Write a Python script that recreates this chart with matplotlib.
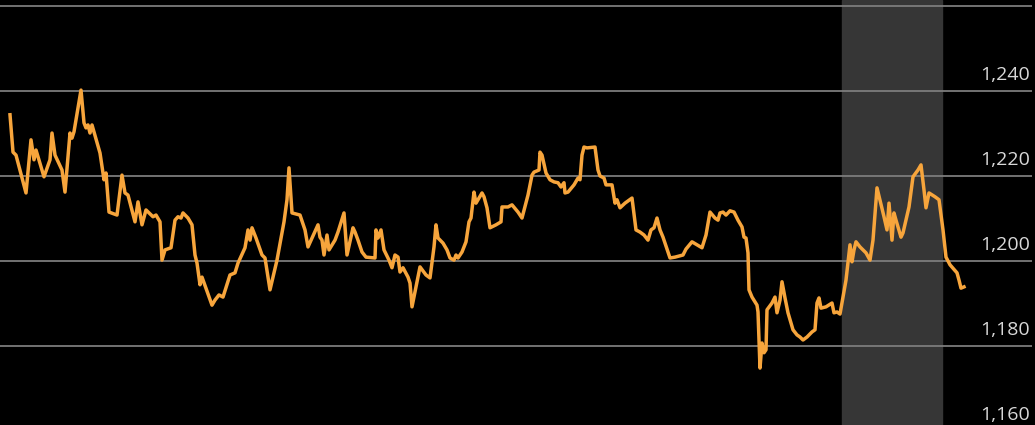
import matplotlib
matplotlib.use("Agg")
import matplotlib.pyplot as plt

# x positions (trading-day position along the chart) and index level
t = [10, 13, 16, 26, 31, 34, 36, 44, 50, 52, 55, 62, 65, 70, 72, 74, 81, 84, 86, 88,
     90, 92, 100, 104, 106, 109, 117, 122, 125, 128, 135, 138, 142, 146, 153, 156, 160, 162, 165, 171,
     175, 178, 181, 183, 188, 192, 195, 197, 200, 202, 212, 215, 219, 223, 230, 235, 238, 245, 248, 250,
     252, 256, 262, 265, 270, 277, 284, 287, 289, 292, 300, 305, 308, 318, 320, 322, 324, 327, 329, 335,
     338, 344, 347, 353, 355, 358, 362, 366, 375, 376, 378, 381, 384, 389, 392, 395, 398, 400, 403, 408,
     410, 412, 416, 420, 426, 430, 434, 436, 438, 443, 447, 450, 454, 456, 458, 462, 466, 469, 471, 474,
     476, 478, 482, 484, 487, 490, 496, 501, 502, 508, 512, 518, 522, 528, 532, 534, 539, 540, 542, 546,
     550, 554, 558, 561, 564, 565, 568, 574, 578, 580, 582, 584, 587, 595, 598, 600, 604, 606, 612, 615,
     617, 620, 625, 632, 636, 640, 644, 648, 651, 654, 657, 660, 663, 670, 675, 683, 686, 692, 697, 702,
     706, 710, 715, 718, 720, 723, 726, 730, 734, 738, 742, 744, 746, 748, 749, 752, 757, 758, 760, 762,
     764, 766, 767, 772, 775, 777, 780, 782, 785, 788, 793, 797, 800, 803, 807, 812, 815, 817, 819, 821,
     826, 832, 834, 837, 840, 846, 850, 852, 854, 856, 860, 866, 870, 873, 877, 884, 887, 889, 892, 894,
     896, 901, 903, 909, 913, 918, 921, 924, 926, 929, 935, 939, 943, 946, 950, 957, 959, 961, 964]
level = [1234.4, 1225.6, 1224.9, 1216.0, 1228.5, 1223.8, 1226.1, 1219.8, 1223.8, 1230.1,
         1224.9, 1221.4, 1216.2, 1230.1, 1228.9, 1230.4, 1240.2, 1232.5, 1231.3, 1232.0,
         1230.1, 1232.0, 1225.4, 1219.1, 1220.7, 1211.5, 1210.8, 1220.2, 1216.0, 1215.5,
         1209.2, 1213.9, 1208.5, 1212.0, 1210.4, 1210.8, 1209.2, 1200.2, 1202.6, 1203.1,
         1209.6, 1210.4, 1210.1, 1211.3, 1210.1, 1208.5, 1201.4, 1199.5, 1194.4, 1196.2,
         1189.6, 1190.8, 1192.0, 1191.5, 1196.7, 1197.2, 1199.5, 1203.1, 1207.3, 1204.9,
         1207.8, 1205.4, 1201.4, 1200.7, 1193.2, 1200.2, 1209.2, 1214.4, 1221.9, 1211.3,
         1210.8, 1207.3, 1203.3, 1208.5, 1205.6, 1204.9, 1201.4, 1206.1, 1202.6, 1204.9,
         1206.8, 1211.3, 1201.4, 1207.8, 1206.8, 1204.9, 1202.1, 1200.9, 1200.7, 1207.3,
         1205.4, 1207.3, 1202.6, 1200.2, 1198.4, 1201.4, 1200.9, 1197.4, 1198.4, 1196.2,
         1194.8, 1189.2, 1193.9, 1198.6, 1196.7, 1196.0, 1203.3, 1208.5, 1205.4, 1204.2,
         1202.6, 1200.7, 1200.2, 1201.4, 1200.7, 1202.1, 1204.5, 1209.2, 1210.1, 1216.2,
         1213.6, 1214.4, 1216.0, 1215.1, 1212.5, 1207.8, 1208.5, 1209.2, 1212.7, 1212.7,
         1213.2, 1211.5, 1210.1, 1215.5, 1220.2, 1220.9, 1221.4, 1225.6, 1224.9, 1220.7,
         1219.1, 1218.6, 1218.4, 1217.4, 1218.4, 1216.0, 1216.2, 1217.9, 1219.5, 1219.1,
         1224.9, 1226.8, 1226.6, 1226.8, 1221.4, 1220.0, 1219.5, 1217.9, 1217.9, 1213.6,
         1214.4, 1212.5, 1213.6, 1214.8, 1207.3, 1206.8, 1206.1, 1204.9, 1207.3, 1207.8,
         1210.1, 1207.3, 1205.6, 1200.7, 1200.9, 1201.4, 1202.8, 1204.5, 1203.8, 1203.1,
         1206.1, 1211.5, 1210.1, 1209.6, 1211.3, 1211.5, 1210.8, 1211.8, 1211.5, 1209.6,
         1208.0, 1205.6, 1205.4, 1201.9, 1193.2, 1191.5, 1189.6, 1188.0, 1174.8, 1180.7,
         1178.4, 1179.1, 1188.5, 1190.1, 1191.5, 1187.8, 1190.8, 1195.1, 1191.3, 1187.8,
         1183.8, 1182.6, 1182.1, 1181.4, 1182.1, 1183.3, 1183.8, 1190.1, 1191.3, 1188.9,
         1189.2, 1190.1, 1187.8, 1188.0, 1187.5, 1195.5, 1203.8, 1199.8, 1202.6, 1204.5,
         1203.3, 1201.9, 1200.2, 1204.9, 1217.2, 1210.4, 1207.3, 1213.6, 1204.9, 1211.3,
         1209.6, 1205.6, 1206.6, 1212.7, 1219.8, 1221.4, 1222.6, 1216.7, 1212.5, 1216.0,
         1215.1, 1214.4, 1207.3, 1200.9, 1199.1, 1197.2, 1195.5, 1193.6, 1193.9]

shade_start, shade_end = 842, 942
grid_levels = [1160, 1180, 1200, 1220, 1240, 1260]
tick_labels = ["1,160", "1,180", "1,200", "1,220", "1,240"]

fig = plt.figure(figsize=(10.35, 4.25), dpi=100, facecolor="black")
ax = fig.add_axes([0, 0, 1, 1])
ax.set_facecolor("black")
ax.set_xlim(0, 1035)
ax.set_ylim(1161.4, 1261.4)
ax.axis("off")

# highlighted period
ax.axvspan(shade_start, shade_end, color="#363636", zorder=1)

# horizontal grid lines
for g in grid_levels:
    ax.hlines(g, 0, 1032, color="#7c7c7c", lw=1.3, zorder=2)

# tick labels sit just above their grid lines, right side
for g, lab in zip(grid_levels, tick_labels):
    ax.text(1030, g + 2.6, lab, ha="right", va="baseline",
            color="#d8d8d8", fontsize=14, family="Open Sans", zorder=4)

ax.plot(t, level, color="#f7a53c", lw=2.5, solid_joinstyle="round", zorder=3)

fig.savefig("out.png", dpi=100, facecolor="black")
